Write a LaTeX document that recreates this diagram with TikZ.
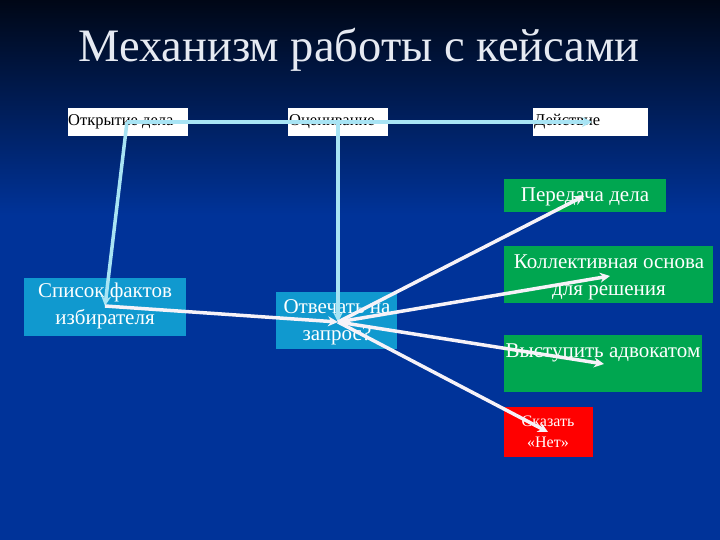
\documentclass[tikz,border=0pt]{standalone}
\usepackage{fontspec}
\setmainfont{Liberation Serif}
\usetikzlibrary{arrows.meta}
\definecolor{bgtop}{HTML}{000716}
\definecolor{bgmain}{HTML}{003399}
\definecolor{cyanbox}{HTML}{1099CF}
\definecolor{greenbox}{HTML}{00A650}
\definecolor{redbox}{HTML}{FF0000}
\definecolor{linkblue}{HTML}{A8E4F4}
\definecolor{linkwhite}{HTML}{F6F2F8}
\definecolor{titlecol}{HTML}{E6EAF2}
\tikzset{
  topbox/.style={fill=white, anchor=north west, inner sep=0pt},
  toptext/.style={anchor=west, inner sep=0pt, text=black, font=\fontsize{16.5}{18}\selectfont},
  colbox/.style={anchor=north west, inner sep=0pt},
  coltext/.style={text=white, align=center, inner sep=0pt, font=\fontsize{21}{27}\selectfont},
  linkb/.style={draw=linkblue, line width=3.5pt, -{Stealth[length=10pt,width=10pt]}},
  linkw/.style={draw=linkwhite, line width=3.5pt, -{Stealth[length=10pt,width=10pt]}},
}
\begin{document}
\begin{tikzpicture}[x=1pt,y=-1pt]
\useasboundingbox (0,0) rectangle (720,540);
% background
\fill[bgmain] (0,0) rectangle (720,540);
\shade[top color=bgtop, bottom color=bgmain] (0,0) rectangle (720,215);
% title
\node (title) [text=titlecol, font=\fontsize{46.5}{50}\selectfont] at (359,50) {Механизм работы с кейсами};
% top boxes
\node (open) [topbox, minimum width=120pt, minimum height=28pt] at (68,108) {};
\node (opentext) [toptext] at (68,122) {Открытие дела};
\node (eval) [topbox, minimum width=100pt, minimum height=28pt] at (288,108) {};
\node (evaltext) [toptext] at (289,122) {Оценивание};
\node (act) [topbox, minimum width=115pt, minimum height=28pt] at (533,108) {};
\node (acttext) [toptext] at (534,122) {Действие};
% lower boxes
\node (facts) [colbox, fill=cyanbox, minimum width=162pt, minimum height=58pt] at (24,278) {};
\node (factstext) [coltext] at (105,306) {Список фактов\\избирателя};
\node (answer) [colbox, fill=cyanbox, minimum width=121pt, minimum height=57pt] at (276,292) {};
\node (answertext) [coltext] at (337,322) {Отвечать на\\запрос?};
\node (transfer) [colbox, fill=greenbox, minimum width=162pt, minimum height=33pt] at (504,179) {};
\node (transfertext) [coltext] at (585,197) {Передача дела};
\node (collect) [colbox, fill=greenbox, minimum width=209pt, minimum height=57pt] at (504,246) {};
\node (collecttext) [coltext] at (609,277) {Коллективная основа\\для решения};
\node (advocate) [colbox, fill=greenbox, minimum width=198pt, minimum height=57pt] at (504,335) {};
\node (advocatetext) [coltext] at (603,353) {Выступить адвокатом};
\node (no) [colbox, fill=redbox, minimum width=89pt, minimum height=50pt] at (504,407) {};
\node (notext) [coltext, font=\fontsize{16}{21}\selectfont] at (548,432) {Сказать\\«Нет»};
% connector points
\coordinate (openpt) at (127,122);
\coordinate (evalpt) at (338,122);
\coordinate (actpt) at (592,122);
\coordinate (factspt) at (105,306);
\coordinate (hub) at (338,322);
\coordinate (transferpt) at (584,196);
\coordinate (collectpt) at (610,276);
\coordinate (advocatept) at (604,364);
\coordinate (nopt) at (548,432);
% connectors
\draw[linkb] (openpt) -- (actpt);
\draw[linkb] (openpt) -- (factspt);
\draw[linkb] (evalpt) -- (hub);
\draw[linkw] (factspt) -- (hub);
\draw[linkw] (hub) -- (transferpt);
\draw[linkw] (hub) -- (collectpt);
\draw[linkw] (hub) -- (advocatept);
\draw[linkw] (hub) -- (nopt);
\end{tikzpicture}
\end{document}
